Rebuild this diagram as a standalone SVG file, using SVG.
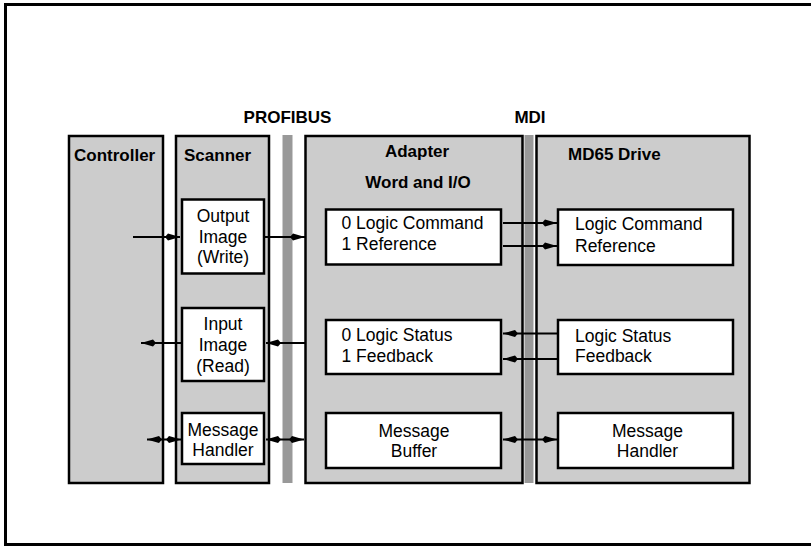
<svg xmlns="http://www.w3.org/2000/svg" width="811" height="547" viewBox="0 0 811 547">
<style>
  .panel { fill: #cccccc; stroke: #000; stroke-width: 2.5; }
  .bar { fill: #999999; stroke: none; }
  .box { fill: #ffffff; stroke: #000; stroke-width: 2.5; }
  .t { font-family: "Liberation Sans", Arial, sans-serif; font-size: 17.5px; fill: #000; }
  .b { font-family: "Liberation Sans", Arial, sans-serif; font-size: 17px; font-weight: bold; fill: #000; }
  .c { text-anchor: middle; }
  .ln { stroke: #000; stroke-width: 2; fill: none; }
</style>
<defs>
  <marker id="ah" markerUnits="userSpaceOnUse" markerWidth="16" markerHeight="9" refX="15" refY="4.5" orient="auto-start-reverse">
    <path d="M0,4.5 L3,1 L15,4.5 L3,8 Z" fill="#000"/>
  </marker>
</defs>
<rect x="5.5" y="4.5" width="812" height="540" fill="#fff" stroke="#000" stroke-width="3"/>

<text class="b c" x="287.5" y="123">PROFIBUS</text>
<text class="b c" x="530" y="123">MDI</text>

<g id="controller">
  <rect class="panel" x="69" y="136" width="94" height="347"/>
  <text class="b" x="74" y="161">Controller</text>
</g>
<g id="scanner">
  <rect class="panel" x="176" y="136" width="93" height="347"/>
  <text class="b" x="184" y="161">Scanner</text>
</g>
<g id="profibus-bar">
  <rect class="bar" x="282.5" y="135" width="10" height="348"/>
</g>
<g id="adapter">
  <rect class="panel" x="305.5" y="136" width="217" height="347"/>
  <text class="b c" x="417" y="157">Adapter</text>
  <text class="b c" x="418" y="188">Word and I/O</text>
</g>
<g id="mdi-bar">
  <rect class="bar" x="524.5" y="135" width="9" height="348"/>
</g>
<g id="drive">
  <rect class="panel" x="536.5" y="136" width="213" height="347"/>
  <text class="b" x="568" y="160">MD65 Drive</text>
</g>

<g id="output-image">
  <rect class="box" x="182" y="199.5" width="82" height="74"/>
  <text class="t c" x="223" y="222">Output</text>
  <text class="t c" x="223" y="243">Image</text>
  <text class="t c" x="223" y="263">(Write)</text>
</g>
<g id="input-image">
  <rect class="box" x="182" y="308" width="82" height="73"/>
  <text class="t c" x="223" y="330">Input</text>
  <text class="t c" x="223" y="351">Image</text>
  <text class="t c" x="223" y="372">(Read)</text>
</g>
<g id="scanner-message-handler">
  <rect class="box" x="182" y="413" width="82" height="51"/>
  <text class="t c" x="223" y="436">Message</text>
  <text class="t c" x="223" y="456">Handler</text>
</g>

<g id="adapter-command">
  <rect class="box" x="326" y="209.5" width="175" height="55"/>
  <text class="t" x="341.5" y="228.5">0 Logic Command</text>
  <text class="t" x="341.5" y="250">1 Reference</text>
</g>
<g id="adapter-status">
  <rect class="box" x="326" y="320" width="175" height="54"/>
  <text class="t" x="341.5" y="341">0 Logic Status</text>
  <text class="t" x="341.5" y="362">1 Feedback</text>
</g>
<g id="message-buffer">
  <rect class="box" x="326" y="413" width="175" height="55"/>
  <text class="t c" x="414" y="437">Message</text>
  <text class="t c" x="414" y="457">Buffer</text>
</g>

<g id="drive-command">
  <rect class="box" x="558" y="209.5" width="175" height="55.5"/>
  <text class="t" x="575" y="230">Logic Command</text>
  <text class="t" x="575" y="251.5">Reference</text>
</g>
<g id="drive-status">
  <rect class="box" x="558" y="320" width="175" height="54"/>
  <text class="t" x="575" y="341.5">Logic Status</text>
  <text class="t" x="575" y="362">Feedback</text>
</g>
<g id="drive-message-handler">
  <rect class="box" x="558" y="413" width="175" height="55"/>
  <text class="t c" x="647.5" y="437">Message</text>
  <text class="t c" x="647.5" y="457">Handler</text>
</g>

<g id="connectors">
  <line class="ln" x1="133" y1="237" x2="180" y2="237" marker-end="url(#ah)"/>
  <line class="ln" x1="264" y1="237" x2="305" y2="237" marker-end="url(#ah)"/>
  <line class="ln" x1="182" y1="343" x2="141" y2="343" marker-end="url(#ah)"/>
  <line class="ln" x1="305" y1="343" x2="266" y2="343" marker-end="url(#ah)"/>
  <line class="ln" x1="147" y1="439.5" x2="181" y2="439.5" marker-start="url(#ah)" marker-end="url(#ah)"/>
  <line class="ln" x1="266" y1="439.5" x2="304" y2="439.5" marker-start="url(#ah)" marker-end="url(#ah)"/>
  <line class="ln" x1="503" y1="223" x2="557" y2="223" marker-end="url(#ah)"/>
  <line class="ln" x1="503" y1="246" x2="557" y2="246" marker-end="url(#ah)"/>
  <line class="ln" x1="558" y1="333.5" x2="503" y2="333.5" marker-end="url(#ah)"/>
  <line class="ln" x1="558" y1="359" x2="503" y2="359" marker-end="url(#ah)"/>
  <line class="ln" x1="503" y1="439.5" x2="557" y2="439.5" marker-start="url(#ah)" marker-end="url(#ah)"/>
</g>
</svg>
